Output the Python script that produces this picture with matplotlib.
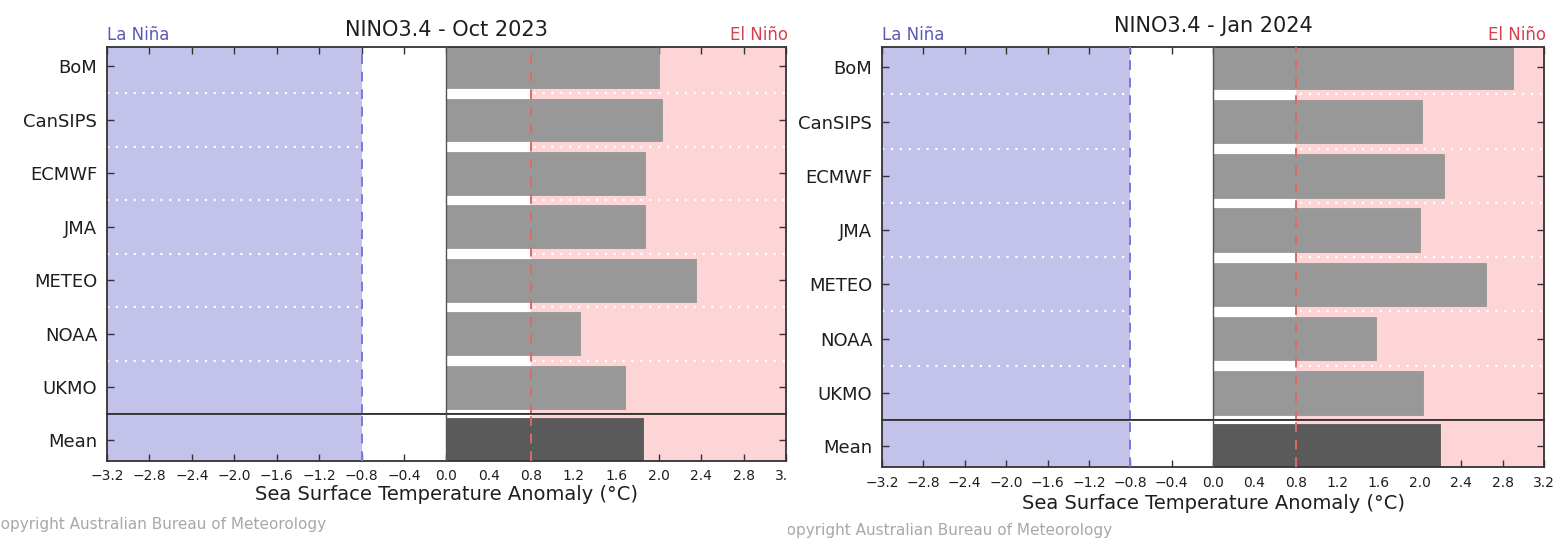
import numpy as np
import matplotlib
matplotlib.use('Agg')
import matplotlib.pyplot as plt

# Model NINO3.4 forecasts
models = ['BoM', 'CanSIPS', 'ECMWF', 'JMA', 'METEO', 'NOAA', 'UKMO']
oct_2023 = [2.00, 2.03, 1.87, 1.87, 2.35, 1.26, 1.68]
oct_2023_mean = 1.85
jan_2024 = [2.90, 2.02, 2.23, 2.00, 2.64, 1.58, 2.03]
jan_2024_mean = 2.19
xticks = np.round(np.arange(-3.2, 3.21, 0.4), 1) + 0.0
threshold = 0.8

W, H = 1557, 538
BLUE = '#c2c2ea'
PINK = '#fdd5d6'
BAR = '#989898'
MEAN_BAR = '#5a5a5a'
SPINE = '#333333'
TXT = '#1e1e1e'

plt.rcParams.update({'font.family': 'DejaVu Sans'})
fig = plt.figure(figsize=(W / 100, H / 100), dpi=100)


def box(x0, x1, ytop, ybot):
    return [x0 / W, 1 - ybot / H, (x1 - x0) / W, (ybot - ytop) / H]


def tick_text(t):
    s = f'{abs(t):.1f}'
    return ('\u2212' + s) if t < 0 else s


def shade(ax):
    ax.axvspan(-3.2, -threshold, color=BLUE, lw=0, zorder=0)
    ax.axvspan(threshold, 3.2, color=PINK, lw=0, zorder=0)
    ax.axvline(-threshold, color='#7a7ad8', ls=(0, (5, 4)), lw=1.4, zorder=4)
    ax.axvline(threshold, color='#dc6a6a', ls=(0, (5, 4)), lw=1.4, zorder=4)
    ax.axvline(0, color='#555555', lw=1.0, zorder=3)
    ax.set_xlim(-3.2, 3.2)
    for s in ax.spines.values():
        s.set_color(SPINE)
        s.set_linewidth(1.3)
    ax.tick_params(direction='in', length=5, width=1, color=SPINE)


def panel(x0, x1, ytop, ysep, ybot, values, mean, title, title_pad, xlabelpad):
    ax = fig.add_axes(box(x0, x1, ytop, ysep))
    axm = fig.add_axes(box(x0, x1, ysep, ybot))

    y = np.arange(len(models))
    shade(ax)
    for b in y[:-1] + 0.5:
        ax.axhline(b, color='white', ls=(0, (1, 3)), lw=1.6, zorder=1)
    ax.barh(y, values, height=0.8, color=BAR, edgecolor='#8e8e8e', lw=0.5, zorder=2)
    ax.set_ylim(6.5, -0.37)
    ax.set_yticks(y)
    ax.set_yticklabels(models, fontsize=13, color=TXT)
    ax.set_xticks(xticks)
    ax.tick_params(axis='x', top=True, bottom=False, labelbottom=False)
    ax.tick_params(axis='y', left=True, right=True, pad=7)
    ax.set_title(title, fontsize=15, pad=title_pad, color=TXT)
    ax.annotate('La Niña', xy=(0, 1), xycoords='axes fraction', xytext=(0, 5),
                textcoords='offset points', ha='left', va='baseline',
                fontsize=12, color='#5a5ab4')
    ax.annotate('El Niño', xy=(1, 1), xycoords='axes fraction', xytext=(1.5, 5),
                textcoords='offset points', ha='right', va='baseline',
                fontsize=12, color='#d8404c')

    shade(axm)
    axm.barh([0], [mean], height=0.8, color=MEAN_BAR, edgecolor='#4a4a4a', lw=0.5, zorder=2)
    axm.set_ylim(0.38, -0.48)
    axm.set_yticks([0])
    axm.set_yticklabels(['Mean'], fontsize=13, color=TXT)
    axm.set_xticks(xticks)
    axm.set_xticklabels([tick_text(t) for t in xticks], fontsize=10, color=TXT)
    axm.tick_params(axis='x', top=False, bottom=True, pad=6)
    axm.tick_params(axis='y', left=True, right=True, pad=7)
    axm.set_xlabel('Sea Surface Temperature Anomaly (°C)', fontsize=14,
                   labelpad=xlabelpad, color=TXT)
    return ax, axm


# left chart (its right edge is cut off in the reference)
panel(107, 786, 46.7, 414, 460.7, oct_2023, oct_2023_mean,
      'NINO3.4 - Oct 2023', 7.5, 1.5)
fig.text(-10 / W, 1 - 529 / H, 'Copyright Australian Bureau of Meteorology',
         fontsize=11, color='#a8a8a8', ha='left', va='baseline')

# white cover that crops the left chart
cover = fig.add_axes([787.5 / W, 0, 1 - 787.5 / W, 1])
cover.set_xticks([])
cover.set_yticks([])
for s in cover.spines.values():
    s.set_visible(False)
cover.set_facecolor('white')
cover.text((776 - 787.5) / (W - 787.5), 1 - 535 / H,
           'Copyright Australian Bureau of Meteorology',
           transform=cover.transAxes, fontsize=11, color='#a8a8a8',
           ha='left', va='baseline', clip_on=True)

# right chart
panel(882, 1544, 47.3, 420, 467.3, jan_2024, jan_2024_mean,
      'NINO3.4 - Jan 2024', 11, 3)

fig.savefig('out.png', dpi=100)
